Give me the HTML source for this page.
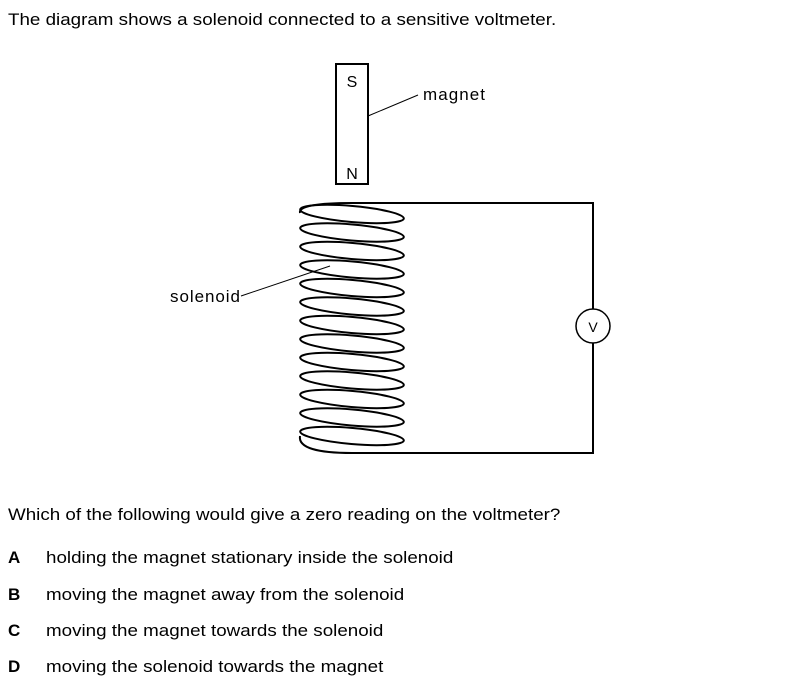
<!DOCTYPE html>
<html><head><style>
body{margin:0;background:#fff;width:810px;height:688px;position:relative;font-family:"Liberation Sans",Arial,sans-serif;color:#000;}
.t{position:absolute;font-size:17px;white-space:nowrap;transform:scaleX(1.105);transform-origin:0 0}
.b{position:absolute;font-size:17px;font-weight:bold}
</style></head><body>
<div class="t" style="left:8px;top:10px">The diagram shows a solenoid connected to a sensitive voltmeter.</div>
<svg width="810" height="688" style="position:absolute;left:0;top:0" xmlns="http://www.w3.org/2000/svg">
<rect x="336" y="64" width="32" height="120" fill="none" stroke="#000" stroke-width="2"/>
<text x="352" y="87" font-family="Liberation Sans" font-size="16" text-anchor="middle">S</text>
<text x="352" y="179" font-family="Liberation Sans" font-size="16" text-anchor="middle">N</text>
<line x1="368" y1="116" x2="418" y2="95" stroke="#000" stroke-width="1"/>
<text x="423" y="100" font-family="Liberation Sans" font-size="17" textLength="62">magnet</text>
<text x="170" y="302" font-family="Liberation Sans" font-size="17" textLength="70">solenoid</text>
<line x1="241" y1="296" x2="330" y2="266" stroke="#000" stroke-width="1"/>
<g fill="none" stroke="#000" stroke-width="2">
<path d="M352 203 L593 203 L593 453 L352 453"/>
<circle cx="593" cy="326" r="17" fill="#fff" stroke-width="1.5"/>
</g>
<text x="593" y="332" font-family="Liberation Sans" font-size="14" text-anchor="middle">V</text>
<g fill="none" stroke="#000" stroke-width="2">
<path d="M352 203 C318 203 298 206 300 213"/>
<g transform="rotate(5 352 214)"><ellipse cx="352" cy="214" rx="52" ry="8"/></g>
<g transform="rotate(5 352 232.5)"><ellipse cx="352" cy="232.5" rx="52" ry="8"/></g>
<g transform="rotate(5 352 251)"><ellipse cx="352" cy="251" rx="52" ry="8"/></g>
<g transform="rotate(5 352 269.5)"><ellipse cx="352" cy="269.5" rx="52" ry="8"/></g>
<g transform="rotate(5 352 288)"><ellipse cx="352" cy="288" rx="52" ry="8"/></g>
<g transform="rotate(5 352 306.5)"><ellipse cx="352" cy="306.5" rx="52" ry="8"/></g>
<g transform="rotate(5 352 325)"><ellipse cx="352" cy="325" rx="52" ry="8"/></g>
<g transform="rotate(5 352 343.5)"><ellipse cx="352" cy="343.5" rx="52" ry="8"/></g>
<g transform="rotate(5 352 362)"><ellipse cx="352" cy="362" rx="52" ry="8"/></g>
<g transform="rotate(5 352 380.5)"><ellipse cx="352" cy="380.5" rx="52" ry="8"/></g>
<g transform="rotate(5 352 399)"><ellipse cx="352" cy="399" rx="52" ry="8"/></g>
<g transform="rotate(5 352 417.5)"><ellipse cx="352" cy="417.5" rx="52" ry="8"/></g>
<g transform="rotate(5 352 436)"><ellipse cx="352" cy="436" rx="52" ry="8"/></g>
<path d="M300 436 C298 448 318 453 352 453"/>
</g>
</svg>
<div class="t" style="left:8px;top:505px">Which of the following would give a zero reading on the voltmeter?</div>
<div class="b" style="left:8px;top:548px">A</div><div class="t" style="left:46px;top:548px">holding the magnet stationary inside the solenoid</div>
<div class="b" style="left:8px;top:585px">B</div><div class="t" style="left:46px;top:585px">moving the magnet away from the solenoid</div>
<div class="b" style="left:8px;top:621px">C</div><div class="t" style="left:46px;top:621px">moving the magnet towards the solenoid</div>
<div class="b" style="left:8px;top:657px">D</div><div class="t" style="left:46px;top:657px">moving the solenoid towards the magnet</div>
</body></html>
